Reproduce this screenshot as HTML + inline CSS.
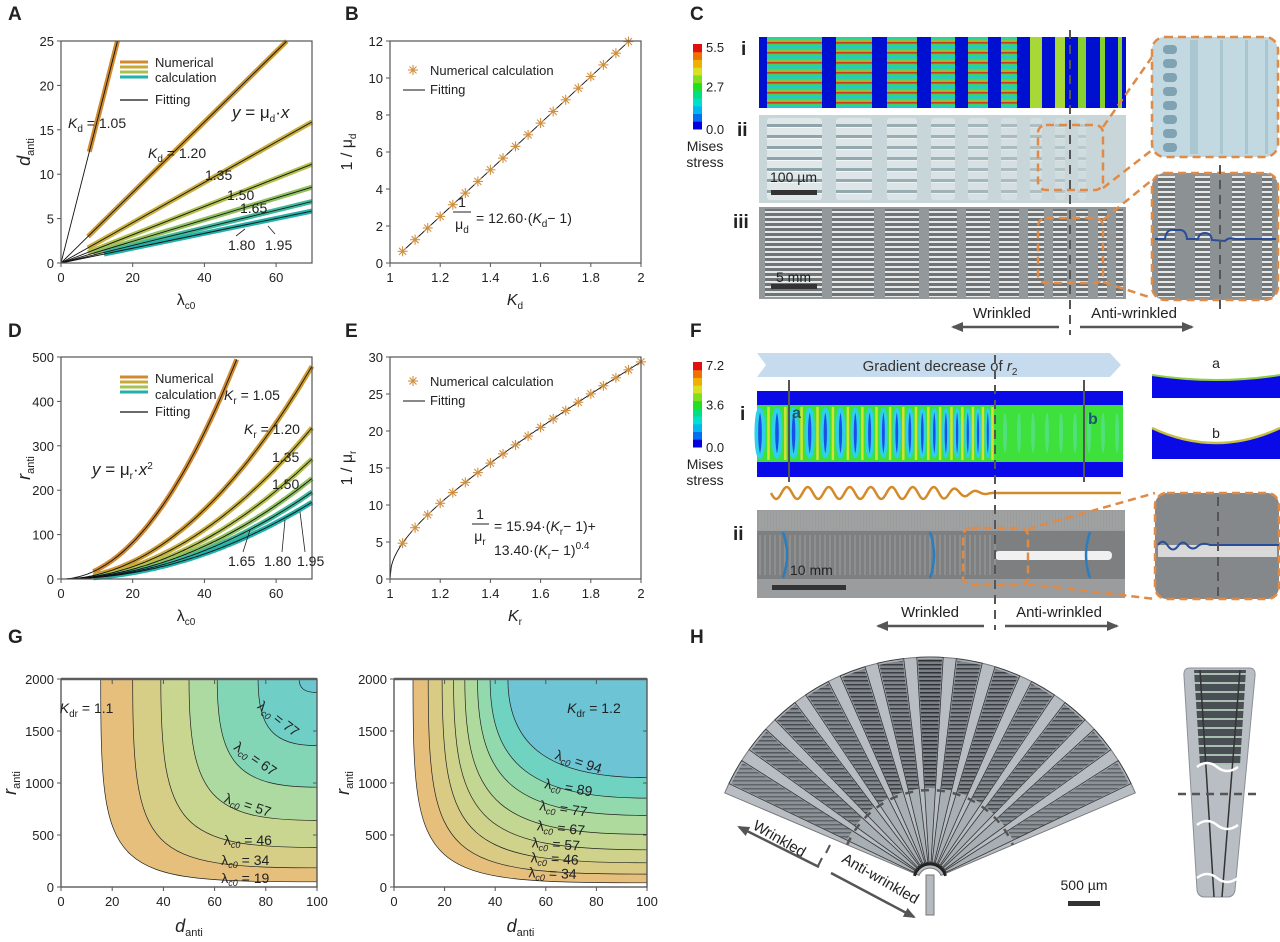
<!DOCTYPE html>
<html><head><meta charset="utf-8">
<style>body{margin:0;background:#fff}svg{display:block;font-family:"Liberation Sans",sans-serif}</style>
</head><body>
<svg id="s" width="1280" height="942" viewBox="0 0 1280 942" xmlns="http://www.w3.org/2000/svg"></svg>
<script>
let o='';
const f=n=>Math.round(n*10)/10;
function T(x,y,s,a,sz,ex){o+=`<text x="${f(x)}" y="${f(y)}" text-anchor="${a||'start'}" font-size="${sz||13}" ${ex||''} fill="#222">${s}</text>`;}
function L(x1,y1,x2,y2,c,w,ex){o+=`<line x1="${f(x1)}" y1="${f(y1)}" x2="${f(x2)}" y2="${f(y2)}" stroke="${c||'#333'}" stroke-width="${w||1}" ${ex||''}/>`;}
function R(x,y,w,h,fill,ex){o+=`<rect x="${f(x)}" y="${f(y)}" width="${f(w)}" height="${f(h)}" fill="${fill}" ${ex||''}/>`;}
function P(d,fill,st,w,ex){o+=`<path d="${d}" fill="${fill||'none'}" stroke="${st||'none'}" stroke-width="${w||1}" ${ex||''}/>`;}
const sub=(s,rest,sz)=>`<tspan font-size="${sz||10}" dy="4" font-style="normal">${s}</tspan><tspan dy="-4" font-style="normal">${rest||'\u200b'}</tspan>`;
const lam=(v)=>`λ<tspan font-size="9" dy="3" font-style="italic">c0</tspan><tspan dy="-3"> = ${v}</tspan>`;

o+=`<defs>
<marker id="ah" markerUnits="userSpaceOnUse" markerWidth="12" markerHeight="10" refX="10" refY="5" orient="auto"><path d="M0,0L12,5L0,10Z" fill="#555"/></marker>
<linearGradient id="gi" x1="0" y1="0" x2="0" y2="1"><stop offset="0" stop-color="#28c0e8"/><stop offset=".25" stop-color="#30e060"/><stop offset=".45" stop-color="#f0a020"/><stop offset=".55" stop-color="#e01818"/><stop offset=".75" stop-color="#30e060"/><stop offset="1" stop-color="#28c0e8"/></linearGradient>
<pattern id="pi" patternUnits="userSpaceOnUse" x="0" y="37" width="10" height="10"><rect width="10" height="10" fill="url(#gi)"/></pattern>
<pattern id="pii" patternUnits="userSpaceOnUse" x="0" y="118" width="10" height="11"><rect width="10" height="11" fill="#dfe7e9"/><rect y="6" width="10" height="3" fill="#8ea4aa"/><rect y="9" width="10" height="1" fill="#f4f8f8"/></pattern>
<pattern id="piii" patternUnits="userSpaceOnUse" x="0" y="0" width="10" height="5"><rect width="10" height="5" fill="#6f7476"/><rect y="1" width="10" height="2" fill="#e6e8e8"/></pattern>
<pattern id="pfan" patternUnits="userSpaceOnUse" x="0" y="0" width="6" height="4"><rect width="6" height="4" fill="#7a8086"/><rect y="0" width="6" height="1.5" fill="#2e3236"/></pattern>
<pattern id="ptube" patternUnits="userSpaceOnUse" x="0" y="668" width="10" height="9"><rect width="10" height="9" fill="#4a4f55"/><rect y="5" width="10" height="2" fill="#a9c0b0"/></pattern>
</defs>`;

function axes(x0,y0,x1,y1,xs,xm,ys,ym,fx,fy){
 R(x0,y0,x1-x0,y1-y0,'none','stroke="#555" stroke-width="1.2"');
 xs.forEach(v=>{const X=xm(v);L(X,y1,X,y1+4,'#555');T(X,y1+19,fx?fx(v):v,'middle',13);});
 ys.forEach(v=>{const Y=ym(v);L(x0-4,Y,x0,Y,'#555');T(x0-7,Y+5,fy?fy(v):v,'end',13);});
}
function star(x,y){const r=5;for(let a=0;a<180;a+=45){const c=Math.cos(a*Math.PI/180)*r,s=Math.sin(a*Math.PI/180)*r;L(x-c,y-s,x+c,y+s,'#d09040',1.1);}}

T(8,20,'A','start',19,'font-weight="bold"');T(345,20,'B','start',19,'font-weight="bold"');T(690,20,'C','start',19,'font-weight="bold"');
T(8,337,'D','start',19,'font-weight="bold"');T(345,337,'E','start',19,'font-weight="bold"');T(690,337,'F','start',19,'font-weight="bold"');
T(8,643,'G','start',19,'font-weight="bold"');T(690,643,'H','start',19,'font-weight="bold"');

// ---------- A ----------
const XA=x=>61+x*251/70, YA=y=>263-y*222/25;
const KA=[[1.587,'#d08a30',7.9],[0.397,'#cc9a30',7.5],[0.227,'#c8b040',7.5],[0.159,'#b4c050',7.5],[0.122,'#90c060',9],[0.099,'#40b89c',12],[0.0835,'#22b0aa',12]];
KA.forEach(([m,c,xs])=>{const xe=Math.min(70,25/m);L(XA(xs),YA(m*xs),XA(xe),YA(m*xe),c,5);});
KA.forEach(([m])=>{const xe=Math.min(70,25/m);L(XA(0),YA(0),XA(xe),YA(m*xe),'#111',0.9);});
axes(61,41,312,263,[0,20,40,60],XA,[0,5,10,15,20,25],YA);
['#d08a30','#c8a83a','#a8c050','#22b0aa'].forEach((c,i)=>L(120,62+i*5,148,62+i*5,c,3));
T(155,67,'Numerical','start',13);T(155,82,'calculation','start',13);L(120,100,148,100,'#111',1.2);T(155,104,'Fitting','start',13);
T(232,118,`<tspan font-style="italic">y</tspan> = μ${sub('d')}·<tspan font-style="italic">x</tspan>`,'start',17);
T(68,128,`<tspan font-style="italic">K</tspan>${sub('d',' = 1.05')}`,'start',14);
T(148,158,`<tspan font-style="italic">K</tspan>${sub('d',' = 1.20')}`,'start',14);
T(205,180,'1.35','start',14);T(227,200,'1.50','start',14);T(240,213,'1.65','start',14);
T(228,250,'1.80','start',14);T(265,250,'1.95','start',14);L(236,236,245,229,'#222',0.8);L(275,234,268,226,'#222',0.8);
T(186,305,`λ${sub('c0')}`,'middle',16);
T(30,152,`d${sub('anti','',11)}`,'middle',18,'font-style="italic" transform="rotate(-90 30 152)"');

// ---------- B ----------
const XB=k=>390+(k-1)*251, YB=v=>263-v*18.5;
L(XB(1.045),YB(0.567),XB(1.95),YB(11.97),'#111',0.9);
for(let k=1.05;k<1.951;k+=0.05)star(XB(k),YB(12.6*(k-1)));
axes(390,41,641,263,[1,1.2,1.4,1.6,1.8,2],XB,[0,2,4,6,8,10,12],YB);
star(413,70);T(430,75,'Numerical calculation','start',13);L(403,90,425,90,'#111',1);T(430,94,'Fitting','start',13);
T(462,207,'1','middle',14);L(453,212,471,212,'#222',1);T(462,229,`μ${sub('d')}`,'middle',14);
T(476,223,`= 12.60·(<tspan font-style="italic">K</tspan>${sub('d')}− 1)`,'start',14);
T(515,305,`<tspan font-style="italic">K</tspan>${sub('d')}`,'middle',16);
T(352,152,`1 / μ${sub('d')}`,'middle',16,'transform="rotate(-90 352 152)"');

// ---------- D ----------
const YD=r=>579-r*0.444;
const KD=[[0.206,'#d08a30'],[0.0978,'#cc9a30'],[0.0695,'#c8b040'],[0.0552,'#b4c050'],[0.0462,'#90c060'],[0.04,'#40b89c'],[0.0353,'#22b0aa']];
KD.forEach(([m,c])=>{const xe=Math.min(70,Math.sqrt(500/m));let d='';for(let x=9;x<=xe+0.01;x+=0.5)d+=(d?'L':'M')+f(XA(x))+','+f(YD(m*x*x));P(d,'none',c,5);});
KD.forEach(([m])=>{const xe=Math.min(70,Math.sqrt(500/m));let d='';for(let x=0;x<=xe+0.01;x+=0.5)d+=(d?'L':'M')+f(XA(x))+','+f(YD(m*x*x));P(d,'none','#111',0.9);});
axes(61,357,312,579,[0,20,40,60],XA,[0,100,200,300,400,500],YD);
['#d08a30','#c8a83a','#a8c050','#22b0aa'].forEach((c,i)=>L(120,377+i*5,148,377+i*5,c,3));
T(155,383,'Numerical','start',13);T(155,399,'calculation','start',13);L(120,412,148,412,'#111',1.2);T(155,416,'Fitting','start',13);
T(92,475,`<tspan font-style="italic">y</tspan> = μ${sub('r')}·<tspan font-style="italic">x</tspan><tspan font-size="10" dy="-6">2</tspan>`,'start',17);
T(224,400,`<tspan font-style="italic">K</tspan>${sub('r',' = 1.05')}`,'start',14);
T(244,434,`<tspan font-style="italic">K</tspan>${sub('r',' = 1.20')}`,'start',14);
T(272,462,'1.35','start',14);T(272,489,'1.50','start',14);
T(228,566,'1.65','start',14);T(264,566,'1.80','start',14);T(297,566,'1.95','start',14);
L(243,552,250,530,'#222',0.8);L(282,552,285,520,'#222',0.8);L(305,552,300,512,'#222',0.8);
T(186,621,`λ${sub('c0')}`,'middle',16);
T(30,468,`r${sub('anti','',11)}`,'middle',18,'font-style="italic" transform="rotate(-90 30 468)"');

// ---------- E ----------
const YE=v=>579-v*7.4, Ev=k=>15.94*(k-1)+13.4*Math.pow(k-1,0.4);
{let d='';for(let k=1;k<=2.0001;k+=0.005)d+=(d?'L':'M')+f(XB(k))+','+f(YE(Ev(k)));P(d,'none','#111',0.9);}
for(let k=1.05;k<2.001;k+=0.05)star(XB(k),YE(Ev(k)));
axes(390,357,641,579,[1,1.2,1.4,1.6,1.8,2],XB,[0,5,10,15,20,25,30],YE);
star(413,381);T(430,386,'Numerical calculation','start',13);L(403,401,425,401,'#111',1);T(430,405,'Fitting','start',13);
T(480,519,'1','middle',14);L(472,524,489,524,'#222',1);T(480,541,`μ${sub('r')}`,'middle',14);
T(494,531,`= 15.94·(<tspan font-style="italic">K</tspan>${sub('r')}− 1)+`,'start',14);
T(494,555,`13.40·(<tspan font-style="italic">K</tspan>${sub('r')}− 1)<tspan font-size="10" dy="-6">0.4</tspan>`,'start',14);
T(515,621,`<tspan font-style="italic">K</tspan>${sub('r')}`,'middle',16);
T(352,468,`1 / μ${sub('r')}`,'middle',16,'transform="rotate(-90 352 468)"');

// ---------- G ----------
function G(x0,x1,bounds,cols,labs){
 const X=d=>x0+d*(x1-x0)/100, Y=r=>887-r*208/2000;
 R(x0,679,x1-x0,208,'#fff');
 bounds.forEach(([dt,rr],i)=>{const fr=0.03+0.32*i/bounds.length;
  P(`M${f(X(dt))},${f(Y(2000))}C${f(X(dt))},${f(Y(rr+(2000-rr)*fr))} ${f(X(dt+(100-dt)*fr))},${f(Y(rr))} ${f(X(100))},${f(Y(rr))}L${f(X(100))},${f(Y(2000))}Z`,cols[i],'#222',0.7);});
 R(x0,679,x1-x0,208,'none','stroke="#555" stroke-width="1.2"');
 L(x0,679,x1,679,'#666',2.5);
 axes(x0,679,x1,887,[0,20,40,60,80,100],X,[0,500,1000,1500,2000],Y);
 [20,40,60,80].forEach(v=>L(X(v),679,X(v),684,'#555'));[500,1000,1500].forEach(v=>L(x1,Y(v),x1-4,Y(v),'#555'));
 labs.forEach(([d,r,s,rot])=>T(X(d),Y(r)+5,s,'middle',14,`transform="rotate(${rot} ${f(X(d))} ${f(Y(r))})"`));
 T((x0+x1)/2,932,`d${sub('anti','',11)}`,'middle',18,'font-style="italic"');
 T(x0-45,783,`r${sub('anti','',11)}`,'middle',18,`font-style="italic" transform="rotate(-90 ${x0-45} 783)"`);
}
G(61,317,[[15.5,50],[28,185],[39,380],[50,640],[61,960],[77,1360],[93,1870]],
 ['#e6bf7c','#d6cd86','#c9d68f','#acdaa0','#82d6b5','#6fcfc6','#6cc6d0'],
 [[85,1620,lam(77),38],[76,1235,lam(67),35],[73,790,lam(57),18],[73,451,lam(46),0],[72,258,lam(34),0],[72,87,lam(19),0],
  [10,1720,`<tspan font-style="italic">K</tspan>${sub('dr',' = 1.1')}`,0]]);
G(394,647,[[7.5,40],[13.5,124],[19,233],[23.5,358],[28,507],[33,688],[38,855],[45,1051]],
 ['#e6bf7c','#d9cb84','#cfd28b','#c3d792','#aedb9d','#92daae','#70d3c2','#6cc4d4'],
 [[73,1207,lam(94),18],[69,958,lam(89),10],[67,756,lam(77),8],[66,569,lam(67),6],[64,414,lam(57),4],[63.5,274,lam(46),3],[62.7,134,lam(34),2],
  [79,1720,`<tspan font-style="italic">K</tspan>${sub('dr',' = 1.2')}`,0]]);

// ---------- C ----------
function cbar(x,y,h,top,mid){const cs=['#0000e0','#0070f0','#00b8f0','#00e0d0','#00e080','#20e020','#80e020','#d8e020','#f0b000','#f07000','#e01010'];
 cs.forEach((c,i)=>R(x,y+h-(i+1)*h/11,9,h/11+0.5,c));
 T(x+13,y+8,top,'start',13);T(x+13,y+h/2+5,mid,'start',13);T(x+13,y+h+5,'0.0','start',13);
 T(x+12,y+h+22,'Mises','middle',14);T(x+12,y+h+38,'stress','middle',14);}
cbar(693,44,85,'5.5','2.7');
const cols=[[767,822],[836,872],[887,917],[931,955],[968,988],[1001,1017],[1030,1042],[1055,1065],[1078,1086],[1100,1105],[1118,1122]];
R(759,37,367,71,'#0010d0');
cols.forEach(([a,b],i)=>R(a,37,b-a,71,i<6?'url(#pi)':(i<8?'#a8d838':'#88d030')));
R(759,115,367,88,'#c9d6d9');
cols.slice(0,9).forEach(([a,b],i)=>R(a,118,b-a,82,'url(#pii)',`opacity="${1-i*0.09}" rx="3"`));
R(759,207,367,92,'#93989a');
[[765,822],[832,874],[885,919],[929,957],[966,990],[999,1019],[1028,1044],[1053,1067],[1076,1088],[1098,1107],[1116,1123]].forEach(([a,b])=>R(a,209,b-a,88,'url(#piii)'));
T(741,55,'i','start',19,'font-weight="bold"');T(737,136,'ii','start',19,'font-weight="bold"');T(733,228,'iii','start',19,'font-weight="bold"');
T(770,182,'100 µm','start',14);R(771,190,46,5,'#333');
T(776,282,'5 mm','start',14);R(771,284,46,5,'#333');
const od='stroke="#e08a45" stroke-width="2.5" stroke-dasharray="8 5"';
R(1038,125,65,65,'none',od+' rx="8"');R(1038,218,65,65,'none',od+' rx="8"');
L(1103,127,1152,57,'#e08a45',2.5,'stroke-dasharray="8 5"');L(1103,188,1152,150,'#e08a45',2.5,'stroke-dasharray="8 5"');
L(1103,220,1152,180,'#e08a45',2.5,'stroke-dasharray="8 5"');L(1103,282,1152,298,'#e08a45',2.5,'stroke-dasharray="8 5"');
R(1152,37,126,120,'#c2d9e2',od+' rx="13"');
for(let y=45;y<152;y+=14)R(1163,y,14,9,'#7fa3b3','rx="4"');
[1190,1220,1245,1265].forEach((x,i)=>R(x,40,i?3:8,114,'#a9c6d1'));
R(1152,173,126,127,'#8c9193',od+' rx="13"');
[[1158,1175],[1195,1210],[1232,1245],[1262,1272]].forEach(([a,b])=>R(a,176,b-a,121,'url(#piii)'));
P('M1155,239L1165,239Q1166,230 1172,230L1180,230Q1186,230 1187,239L1198,239Q1199,233 1205,233Q1211,233 1212,240L1225,241Q1228,237 1235,239L1276,239','none','#2a4d9a',2);
L(1070,30,1070,335,'#555',2,'stroke-dasharray="9 6"');L(1220,165,1220,312,'#555',2,'stroke-dasharray="9 6"');
T(1002,318,'Wrinkled','middle',15);T(1134,318,'Anti-wrinkled','middle',15);
L(1059,327,953,327,'#555',2.5,'marker-end="url(#ah)"');L(1080,327,1192,327,'#555',2.5,'marker-end="url(#ah)"');

// ---------- F ----------
P('M757,353L1110,353L1121,365L1110,377L757,377L766,365Z','#c6dcee');
T(940,371,`Gradient decrease of <tspan font-style="italic">r</tspan><tspan font-size="10" dy="4">2</tspan>`,'middle',15,'fill="#333"');
cbar(693,362,85,'7.2','3.6');
R(757,391,366,86,'#0a0ae8');R(757,405,366,57,'#3ee03c');
{let x=760,s=17;while(x<990){L(x+s/2,407,x+s/2,460,'#d8e030',2.5);o+=`<ellipse cx="${f(x)}" cy="433" rx="${f(s*0.22)}" ry="24" fill="#1a50e8" stroke="#30d0e8" stroke-width="${f(s*0.22)}"/>`;x+=s;s=Math.max(9,s-0.45);}
 for(let x2=1005;x2<1120;x2+=14)o+=`<ellipse cx="${x2}" cy="433" rx="2" ry="20" fill="#60e0a8" opacity="0.6"/>`;}
T(792,418,'a','start',16,'font-weight="bold" style="fill:#1a5a6a"');T(1088,424,'b','start',16,'font-weight="bold" style="fill:#1a5a6a"');
L(789,380,789,482,'#555',2);L(1084,380,1084,482,'#555',2);
T(740,420,'i','start',19,'font-weight="bold"');T(733,540,'ii','start',19,'font-weight="bold"');
{let d='M771,493';for(let x=771;x<=995;x+=1){const amp=x<940?6:6*(995-x)/55;d+='L'+x+','+f(493+amp*Math.sin((x-771)/21*2*Math.PI));}d+='L1121,493';P(d,'none','#d58a2a',2.5);}
R(757,510,368,88,'#9a9c9d');R(757,531,368,48,'#7d7f80');
for(let x=760;x<1125;x+=3)L(x,511,x,530,'#b0b2b3',1,'opacity="0.5"');
for(let x=760;x<1000;x+=5)L(x,535,x,575,'#c8c8c8',1,'opacity="0.45"');
R(995,551,117,9,'#f0f0f0','rx="4"');
[[783,1],[930,1],[1090,-1]].forEach(([x,s])=>P(`M${x},532Q${x+8*s},555 ${x},578`,'none','#2a7ec0',2.5));
T(790,575,'10 mm','start',14);R(772,585,74,5,'#333');
R(963,528,65,57,'none',od+' rx="8"');
L(1028,529,1155,493,'#e08a45',2.5,'stroke-dasharray="8 5"');L(1028,584,1155,599,'#e08a45',2.5,'stroke-dasharray="8 5"');
R(1155,493,124,106,'#85888a',od+' rx="12"');R(1158,545,119,12,'#eeeeee','opacity="0.8"');
P('M1158,545Q1163,538 1168,546Q1173,553 1178,546Q1183,539 1188,546Q1193,551 1198,546Q1203,542 1210,545L1279,545','none','#2a4d9a',2);
L(1218,497,1218,596,'#555',2,'stroke-dasharray="9 6"');
L(995,355,995,630,'#555',2,'stroke-dasharray="9 6"');
T(930,617,'Wrinkled','middle',15);T(1059,617,'Anti-wrinkled','middle',15);
L(984,626,878,626,'#555',2.5,'marker-end="url(#ah)"');L(1005,626,1117,626,'#555',2.5,'marker-end="url(#ah)"');
P('M1152,375Q1216,385 1280,375L1280,398L1152,398Z','#0a0ae8');P('M1152,375Q1216,385 1280,375','none','#90d040',2);T(1216,368,'a','middle',14);
P('M1152,428Q1216,458 1280,428L1280,459L1152,459Z','#0a0ae8');P('M1152,428Q1216,458 1280,428','none','#c8c040',2.5);T(1216,438,'b','middle',14);

// ---------- H ----------
const cx=930,cy=880;const pt=(r,a)=>[cx+r*Math.cos(a*Math.PI/180),cy-r*Math.sin(a*Math.PI/180)];
function wedge(r1,r2,a1,a2,fill,st,w,ex){const [x1,y1]=pt(r2,a1),[x2,y2]=pt(r2,a2),[x3,y3]=pt(r1,a2),[x4,y4]=pt(r1,a1);
 P(`M${f(x1)},${f(y1)}A${r2},${r2} 0 0 1 ${f(x2)},${f(y2)}L${f(x3)},${f(y3)}A${r1},${r1} 0 0 0 ${f(x4)},${f(y4)}Z`,fill,st,w,ex);}
R(926,875,8,40,'#b4bac0','stroke="#777"');
wedge(12,223,157,23,'#b7bdc3','#777',1);
for(let i=0;i<13;i++){const c=151-i*(122/12);wedge(18,223,c+3.4,c-3.4,'#a7aeb4','#333',0.8);
 const dk=1-Math.abs(i-6)/8;wedge(92,221,c+3.1,c-3.1,'url(#pfan)','none',1,`opacity="${f(0.5+0.5*dk)}"`);}
{const [x1,y1]=pt(90,157),[x2,y2]=pt(90,23);P(`M${f(x1)},${f(y1)}A90,90 0 0 1 ${f(x2)},${f(y2)}`,'none','#555',2.5,'stroke-dasharray="8 8"');
 const [a1,b1]=pt(16,165),[a2,b2]=pt(16,15);P(`M${f(a1)},${f(b1)}A16,16 0 0 1 ${f(a2)},${f(b2)}`,'none','#222',3);}
T(0,0,'Wrinkled','middle',15,'transform="translate(777,843) rotate(30)"');
T(0,0,'Anti-wrinkled','middle',15,'transform="translate(878,883) rotate(30)"');
L(819,867,739,827,'#555',2.5,'marker-end="url(#ah)"');L(831,873,914,917,'#555',2.5,'marker-end="url(#ah)"');
L(822,858,818,866,'#555',2);L(830,845,826,853,'#555',2);
T(1084,890,'500 µm','middle',14);R(1068,901,32,5,'#333');
P('M1190,668L1249,668Q1256,668 1255,676L1235,890Q1234,897 1227,897L1205,897Q1198,897 1197,890L1184,676Q1183,668 1190,668Z','#b9bec4','#8a9096',1);
P('M1194,670L1246,670L1240,765L1200,765Z','url(#ptube)');
L(1200,670,1214,897,'#333',1.5);L(1240,670,1222,897,'#333',1.5);
[767,825,878].forEach(y=>P(`M1197,${y}Q1207,${y-8} 1217,${y}Q1227,${y+8} 1238,${y}`,'none','#fff',2.5));
L(1178,794,1262,794,'#555',2.5,'stroke-dasharray="8 6"');

document.getElementById('s').innerHTML=o;
</script>
</body></html>
